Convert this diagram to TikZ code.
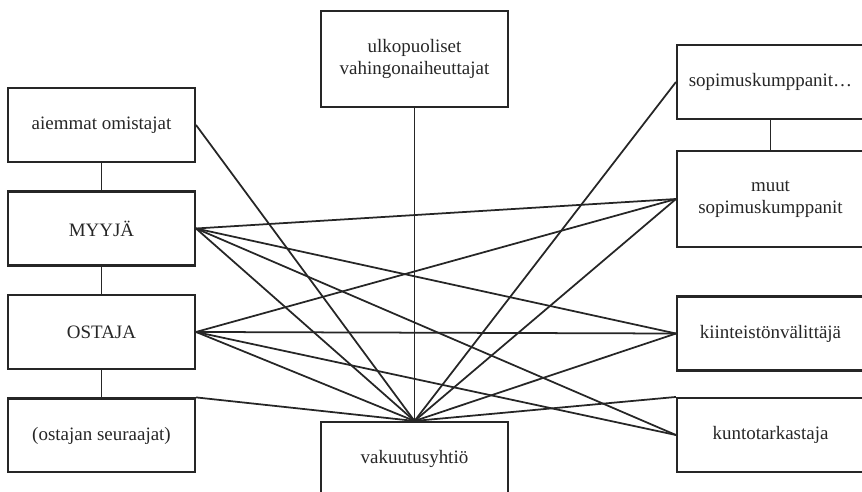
\documentclass[tikz,border=0pt]{standalone}
\usepackage{fontspec}
\setmainfont{Liberation Serif}
\usetikzlibrary{positioning}
\definecolor{ink}{rgb}{0.15,0.15,0.15}

\begin{document}
\begin{tikzpicture}[
            x = 0.02cm, y = -0.02cm, % one unit = one pixel of the scan
            node distance = 2.07cm, % distance between the left boxes
            line width = 1pt, % line style
            font = \fontsize{10.8}{12.4}\selectfont
        ]

        \tikzstyle{party}=[
            draw = ink,
            line width = 1.2pt,
            text = ink,
            align = center,
            minimum width = 3.74cm,
            minimum height = 1.48cm,
            inner sep = 0pt
        ]
        \tikzstyle{tall party}=[party, minimum height = 1.92cm]
        \tikzstyle{link}=[draw = ink]

        \useasboundingbox (0,0) rectangle (862,491);
        \clip (0,0) rectangle (862,491);

	% seller side
        \node[party] (AO) at (101.5,125) {aiemmat omistajat};
        \node[party] (MY) [below of=AO] {MYYJÄ};
        \node[party] (OS) [below of=MY] {OSTAJA};
        \node[party] (SE) [below of=OS] {(ostajan seuraajat)};

        \path[link] (AO) -- (MY) (MY) -- (OS) (OS) -- (SE);

        % outsiders and insurer
        \node[tall party] (UV) at (414.5,59) {ulkopuoliset\\vahingonaiheuttajat};
        \node[party] (VY) at (414.5,459) {vakuutusyhtiö};

        % contract partners
        \node[party] (SK) at (770.5,82) {sopimuskumppanit…};
        \node[tall party] (MS) at (770.5,199) {muut\\sopimuskumppanit};
        \node[party] (KV) at (770.5,333.5) {kiinteistönvälittäjä};
        \node[party] (KT) at (770.5,435) {kuntotarkastaja};

        \path[link] (SK) -- (MS);

        % everybody meets the insurer
        \path[link] (AO.east) -- (VY.north);
        \path[link] (UV.south) -- (VY.north);
        \path[link] (SK.west) -- (VY.north);
        \path[link] (MS.west) -- (VY.north);
        \path[link] (KV.west) -- (VY.north);
        \path[link] (KT.north west) -- (VY.north);
        \path[link] (SE.north east) -- (VY.north);

        % seller and buyer
        \foreach \p in {MY, OS} {
            \path[link] (\p.east) -- (MS.west);
            \path[link] (\p.east) -- (KV.west);
            \path[link] (\p.east) -- (KT.west);
            \path[link] (\p.east) -- (VY.north);
        }

  \end{tikzpicture}
\end{document}
